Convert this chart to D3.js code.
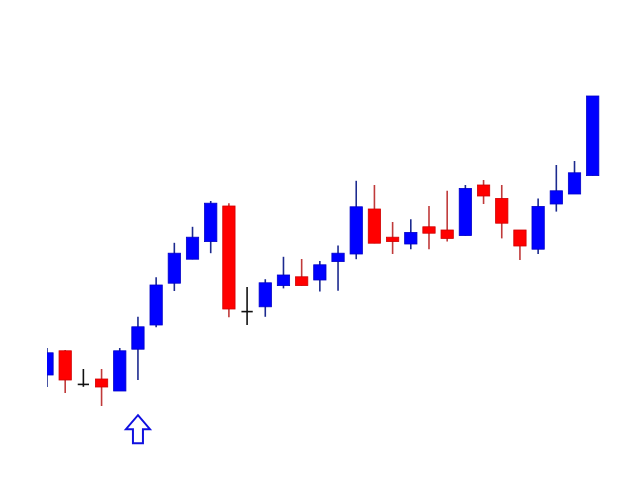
<!DOCTYPE html>
<html>
<head>
<meta charset="utf-8">
<script src="https://cdn.jsdelivr.net/npm/d3@7"></script>
<style>
html,body{margin:0;padding:0;background:#fff;}
svg{display:block;}
</style>
</head>
<body>
<script>
// Candle data (arbitrary price units)
const opens  = [26.25,32.3,23.9,25.25,22.25,32.7,38.75,49.2,55.2,59.6,68.5,42.1,43.3,48.6,50.8,50.0,54.6,56.5,67.75,60.7,59.0,63.3,62.5,61.1,73.75,70.4,62.5,57.7,69.0,71.5,76.1];
const highs  = [33.0,32.5,27.75,27.75,33.0,40.8,50.7,59.3,63.3,69.75,69.2,48.25,50.2,55.8,55.25,54.75,58.6,74.8,73.75,64.5,65.2,68.5,72.3,73.75,75.0,73.75,62.5,70.4,78.75,79.75,96.0];
const lows   = [23.25,21.75,23.3,18.5,22.25,25.0,38.2,47.25,55.2,56.7,40.7,38.75,40.8,47.9,48.6,47.1,47.3,55.2,59.2,56.5,57.7,57.7,59.6,61.1,69.0,60.4,55.0,56.5,67.1,71.5,76.1];
const closes = [31.8,25.0,23.9,23.25,32.3,38.3,48.75,56.7,60.7,69.2,42.75,42.1,49.3,51.25,48.6,53.8,56.7,68.3,59.2,59.6,61.9,61.7,60.4,72.9,71.0,64.2,58.5,68.4,72.3,76.8,96.0];
const signalIndex = 5;     // buy arrow under this candle
const signalPrice = 16.2;  // arrow tip level

const W = 640, H = 480;
const svg = d3.select("body").append("svg").attr("width", W).attr("height", H);

const candles = opens.map((o,i)=>({i, o, h:highs[i], l:lows[i], c:closes[i]}));

const x = d3.scaleLinear().domain([0, candles.length-1]).range([47, 592.7]);
const y = d3.scaleLinear().domain([0, 120]).range([480, 0]);
const bw = 12.3;

svg.append("clipPath").attr("id","clip").append("rect")
  .attr("x", 47).attr("y", 0).attr("width", W-47).attr("height", H);

const g = svg.append("g").attr("clip-path","url(#clip)");

function kind(d){ return d.c > d.o ? "up" : (d.c < d.o ? "down" : "doji"); }
const wickCol = {up:"#1c2a8f", down:"#c03a3a", doji:"#111"};
const bodyCol = {up:"#0000ff", down:"#ff0000", doji:"#111"};
const edgeCol = {up:"#0000c8", down:"#d00000", doji:"#111"};

const c = g.selectAll("g.candle").data(candles).enter().append("g").attr("class","candle");

c.append("line")
  .attr("x1", d=>x(d.i)).attr("x2", d=>x(d.i))
  .attr("y1", d=>y(d.h)).attr("y2", d=>y(d.l))
  .attr("stroke", d=>wickCol[kind(d)]).attr("stroke-width", 1.6);

c.filter(d=>kind(d)!=="doji").append("rect")
  .attr("x", d=>x(d.i)-bw/2)
  .attr("width", bw)
  .attr("y", d=>y(Math.max(d.o,d.c)))
  .attr("height", d=>Math.max(1, y(Math.min(d.o,d.c))-y(Math.max(d.o,d.c))))
  .attr("fill", d=>bodyCol[kind(d)])
  .attr("stroke", d=>edgeCol[kind(d)]).attr("stroke-width", 0.8);

c.filter(d=>kind(d)==="doji").append("line")
  .attr("x1", d=>x(d.i)-bw/2+0.5).attr("x2", d=>x(d.i)+bw/2-0.5)
  .attr("y1", d=>y(d.o)).attr("y2", d=>y(d.o))
  .attr("stroke", "#111").attr("stroke-width", 1.6);

// Buy arrow
const ax = x(signalIndex), ay = y(signalPrice);
const pts = [[0,0],[12,14],[5,14],[5,28],[-5,28],[-5,14],[-12,14]];
svg.append("polygon")
  .attr("points", pts.map(p=>[ax+p[0], ay+p[1]].join(",")).join(" "))
  .attr("fill","#fff").attr("stroke","#1010e0").attr("stroke-width",2)
  .attr("stroke-linejoin","miter");
</script>
</body>
</html>
